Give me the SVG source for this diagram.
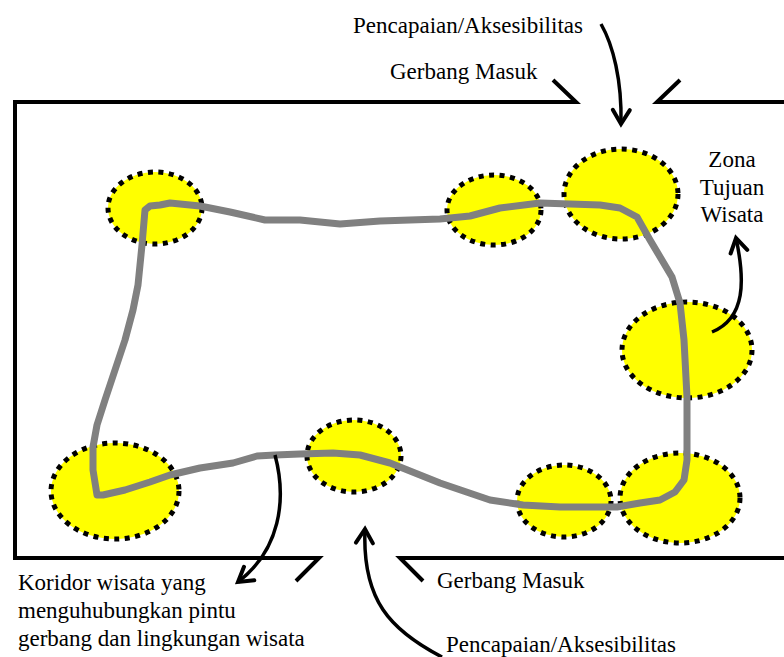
<svg xmlns="http://www.w3.org/2000/svg" width="784" height="657" viewBox="0 0 784 657">
  <style>
    .frame { fill: none; stroke: #000; stroke-width: 4; stroke-linejoin: miter; }
    .zone { fill: #ffff00; stroke: #000; stroke-width: 5; stroke-dasharray: 5 5.5; }
    .corridor { fill: none; stroke: #808080; stroke-width: 7; stroke-linejoin: round; stroke-linecap: round; }
    .arrow { fill: none; stroke: #000; stroke-width: 3.5; marker-end: url(#head); }
    .lbl { font-family: 'Liberation Serif', serif; font-size: 23px; fill: #000; }
  </style>
  <defs>
    <marker id="head" markerUnits="userSpaceOnUse" markerWidth="34" markerHeight="34" refX="0" refY="0" viewBox="-17 -17 34 34" orient="auto">
      <path d="M-14,-8.5 L0,0 L-14,8.5" fill="none" stroke="#000" stroke-width="4" stroke-linecap="round" stroke-linejoin="miter"/>
    </marker>
  </defs>
  <rect width="784" height="657" fill="#fff"/>

  <!-- site boundary with the two entrance gates -->
  <g id="boundary">
    <path class="frame" d="M553,80 L576,102 L15,102 L15,558 L319,558 L296,581"/>
    <path class="frame" d="M680,80 L657,102 L784,102"/>
    <path class="frame" d="M784,558 L400,558 L423,581"/>
  </g>

  <!-- destination zones -->
  <g id="zone-1"><ellipse class="zone" cx="155" cy="208" rx="47" ry="36"/></g>
  <g id="zone-2"><ellipse class="zone" cx="494" cy="210" rx="47" ry="35"/></g>
  <g id="zone-3"><ellipse class="zone" cx="621" cy="194" rx="57" ry="45"/></g>
  <g id="zone-4"><ellipse class="zone" cx="687" cy="350" rx="65" ry="48"/></g>
  <g id="zone-5"><ellipse class="zone" cx="115" cy="491" rx="64" ry="48"/></g>
  <g id="zone-6"><ellipse class="zone" cx="354" cy="456" rx="47" ry="36"/></g>
  <g id="zone-7"><ellipse class="zone" cx="564" cy="501" rx="47" ry="36"/></g>
  <g id="zone-8"><ellipse class="zone" cx="680" cy="498" rx="60" ry="45"/></g>

  <!-- tourism corridor loop -->
  <g id="corridor">
    <path class="corridor" d="M97,495 L93,470 L93,447 L97,425 L105,400 L115,370 L125,340 L133,310 L138,285 L142,245 L145,210 L150,206 L160,205 L170,203 L180,204 L200,206 L230,212 L265,220 L300,220 L340,224 L380,221 L440,219 L470,216 L500,208 L540,203 L600,205 L620,208 L637,217 L650,240 L672,277 L680,303 L684,340 L687,397 L687,460 L684,480 L675,492 L660,500 L640,503 L617,507 L560,507 L523,505 L490,500 L440,483 L390,463 L360,455 L333,453 L300,454 L275,455 L257,456 L233,463 L200,468 L170,475 L150,482 L125,490 L103,495 Z"/>
  </g>

  <!-- leader arrows -->
  <g id="connectors">
    <path class="arrow" d="M601,24 C613,45 622,80 621,124"/>
    <path class="arrow" d="M712,332 C746,318 745,280 736,238"/>
    <path class="arrow" d="M275,455 C287,500 280,550 238,582"/>
    <path class="arrow" d="M442,657 C390,630 362,600 365,529"/>
  </g>

  <!-- labels -->
  <g id="labels">
    <text class="lbl" x="353" y="33">Pencapaian/Aksesibilitas</text>
    <text class="lbl" x="390" y="79">Gerbang Masuk</text>
    <text class="lbl" x="732" y="167" text-anchor="middle">Zona</text>
    <text class="lbl" x="732" y="195" text-anchor="middle">Tujuan</text>
    <text class="lbl" x="732" y="222" text-anchor="middle">Wisata</text>
    <text class="lbl" x="18" y="590">Koridor wisata yang</text>
    <text class="lbl" x="18" y="618">menguhubungkan pintu</text>
    <text class="lbl" x="18" y="646">gerbang dan lingkungan wisata</text>
    <text class="lbl" x="437" y="588">Gerbang Masuk</text>
    <text class="lbl" x="446" y="652">Pencapaian/Aksesibilitas</text>
  </g>
</svg>
